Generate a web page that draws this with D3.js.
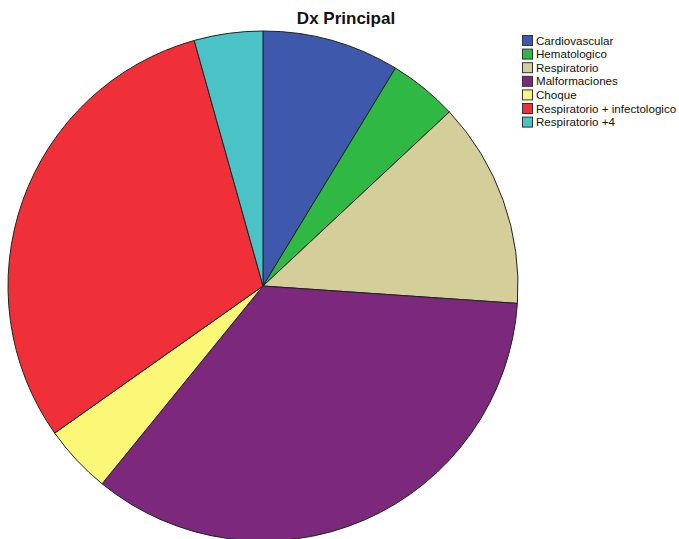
<!DOCTYPE html>
<html>
<head>
<meta charset="utf-8">
<script src="https://cdn.jsdelivr.net/npm/d3@7"></script>
<style>
  body { margin: 0; background: #fff; }
  text { font-family: "Liberation Sans", Arial, sans-serif; }
</style>
</head>
<body>
<svg id="chart" width="679" height="539"></svg>
<script>
let categories = ["Cardiovascular", "Hematologico", "Respiratorio", "Malformaciones",
  "Choque", "Respiratorio + infectologico", "Respiratorio +4"];
let counts = [2, 1, 3, 8, 1, 7, 1];
let colors = ["#3e58ac", "#2fb844", "#d4cf9a", "#7b287d", "#fbf877", "#ef3039", "#4bc2c6"];

let svg = d3.select("#chart");
let center = { x: 263, y: 286 };
let radius = 255;

svg
  .append("text")
  .attr("x", 346)
  .attr("y", 24)
  .attr("text-anchor", "middle")
  .attr("font-size", 17)
  .attr("font-weight", "bold")
  .attr("fill", "#111")
  .text("Dx Principal");

let data = categories.map((c, i) => ({ name: c, value: counts[i], color: colors[i] }));

let pie = d3.pie().sort(null).value((d) => d.value);
let arc = d3.arc().innerRadius(0).outerRadius(radius);

let slices = svg
  .append("g")
  .attr("transform", `translate(${center.x}, ${center.y})`);

slices
  .selectAll("path")
  .data(pie(data))
  .enter()
  .append("path")
  .attr("d", arc)
  .attr("fill", (d) => d.data.color)
  .attr("stroke", "#222")
  .attr("stroke-width", 1)
  .attr("stroke-linejoin", "round");

let legend = svg.append("g").attr("transform", "translate(522, 35)");

let rows = legend
  .selectAll("g")
  .data(data)
  .enter()
  .append("g")
  .attr("transform", (d, i) => `translate(0, ${i * 13.6})`);

rows
  .append("rect")
  .attr("x", 0.5)
  .attr("y", 0.5)
  .attr("width", 10)
  .attr("height", 10)
  .attr("fill", (d) => d.color)
  .attr("stroke", "#333")
  .attr("stroke-width", 1);

rows
  .append("text")
  .attr("x", 14)
  .attr("y", 9.5)
  .attr("font-size", 11.6)
  .attr("fill", "#111")
  .text((d) => d.name);
</script>
</body>
</html>
